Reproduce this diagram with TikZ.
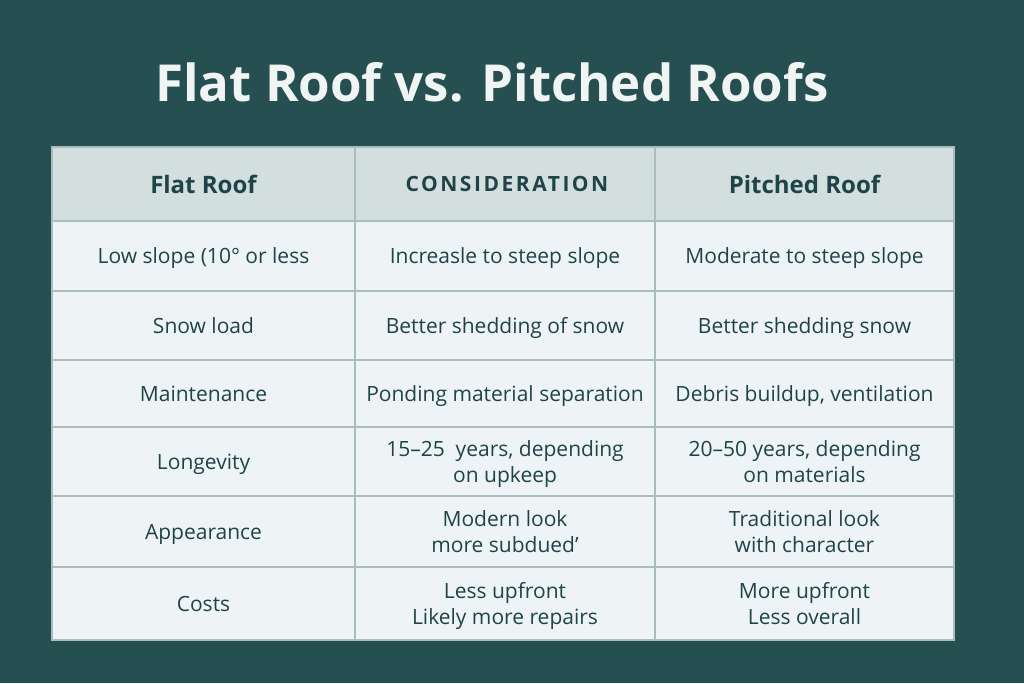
\documentclass[tikz,border=0pt]{standalone}
\usepackage{fontspec}
\setmainfont{Open Sans}
\newfontfamily\spacedfont[LetterSpace=12]{Open Sans}
\definecolor{bgteal}{HTML}{264F52}
\definecolor{headfill}{HTML}{D3DFDF}
\definecolor{cellfill}{HTML}{EEF4F5}
\definecolor{gridline}{HTML}{A9BDBE}
\definecolor{inkteal}{HTML}{1F4447}
\definecolor{titleink}{HTML}{F0F4F2}
\tikzset{
  headcell/.style={draw=gridline, line width=1.2pt, fill=headfill, text=inkteal,
    inner sep=0pt, font=\fontsize{24}{28}\selectfont\bfseries},
  bodycell/.style={draw=gridline, line width=1.2pt, fill=cellfill, text=inkteal,
    inner sep=0pt, align=center, text depth=0pt, font=\fontsize{21}{26}\selectfont},
  colA/.style={minimum width=303pt},
  colB/.style={minimum width=300pt},
  colC/.style={minimum width=299pt},
}
\begin{document}
\begin{tikzpicture}[x=1pt, y=-1pt]
        % Hintergrund und Rahmen
        \fill[bgteal] (0,0) rectangle (1024,683);
        \useasboundingbox (0,0) rectangle (1024,683);
        % Titel
        \node[text=titleink, font=\fontsize{51}{60}\selectfont\bfseries] (title) at (492,82) {Flat Roof vs. Pitched Roofs};
        % Kopfzeile
        \node[headcell, colA, minimum height=74pt] (hflat)  at (203.5,184) {Flat Roof};
        \node[headcell, colB, minimum height=74pt, font=\fontsize{21}{26}\selectfont\spacedfont\bfseries] (hcons) at (505,184) {\hspace{4pt}CONSIDERATION};
        \node[headcell, colC, minimum height=74pt] (hpitch) at (804.5,184) {Pitched Roof};
        % Zeile 1
        \node[bodycell, colA, minimum height=70pt] (slopeA) at (203.5,256) {Low slope (10° or less};
        \node[bodycell, colB, minimum height=70pt] (slopeB) at (505,256) {Increasle to steep slope};
        \node[bodycell, colC, minimum height=70pt] (slopeC) at (804.5,256) {Moderate to steep slope};
        % Zeile 2
        \node[bodycell, colA, minimum height=69pt] (snowA) at (203.5,325.5) {Snow load};
        \node[bodycell, colB, minimum height=69pt] (snowB) at (505,325.5) {Better shedding of snow};
        \node[bodycell, colC, minimum height=69pt] (snowC) at (804.5,325.5) {Better shedding snow};
        % Zeile 3
        \node[bodycell, colA, minimum height=67pt] (maintA) at (203.5,393.5) {Maintenance};
        \node[bodycell, colB, minimum height=67pt] (maintB) at (505,393.5) {Ponding material separation};
        \node[bodycell, colC, minimum height=67pt] (maintC) at (804.5,393.5) {Debris buildup, ventilation};
        % Zeile 4
        \node[bodycell, colA, minimum height=69pt] (longA) at (203.5,461.5) {Longevity};
        \node[bodycell, colB, minimum height=69pt] (longB) at (505,461.5) {15–25\ \ years, depending\\on upkeep};
        \node[bodycell, colC, minimum height=69pt] (longC) at (804.5,461.5) {20–50 years, depending\\on materials};
        % Zeile 5
        \node[bodycell, colA, minimum height=71pt] (lookA) at (203.5,531.5) {Appearance};
        \node[bodycell, colB, minimum height=71pt] (lookB) at (505,531.5) {Modern look\\more subdued'};
        \node[bodycell, colC, minimum height=71pt] (lookC) at (804.5,531.5) {Traditional look\\with character};
        % Zeile 6
        \node[bodycell, colA, minimum height=73pt] (costA) at (203.5,603.5) {Costs};
        \node[bodycell, colB, minimum height=73pt] (costB) at (505,603.5) {Less upfront\\Likely more repairs};
        \node[bodycell, colC, minimum height=73pt] (costC) at (804.5,603.5) {More upfront\\Less overall};
    \end{tikzpicture}
\end{document}
